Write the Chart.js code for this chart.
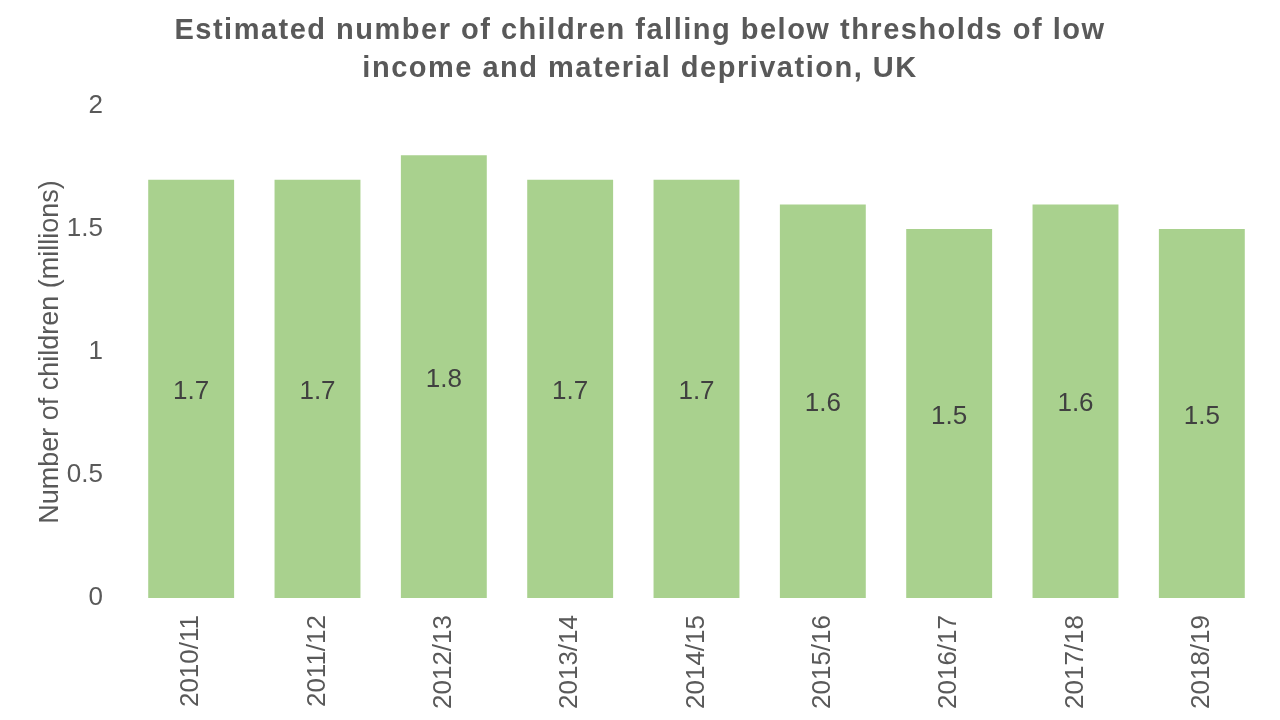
<!DOCTYPE html>
<html>
<head>
<meta charset="utf-8">
<script src="https://cdn.jsdelivr.net/npm/chart.js@4/dist/chart.umd.min.js"></script>
<style>
  html, body { margin: 0; padding: 0; background: #fff; }
  #wrap { width: 1280px; height: 720px; }
</style>
</head>
<body>
<div id="wrap"><canvas id="myChart" width="1280" height="720"></canvas></div>
<script>
const years = ["2010/11", "2011/12", "2012/13", "2013/14", "2014/15", "2015/16", "2016/17", "2017/18", "2018/19"];
const children = [1.7, 1.7, 1.8, 1.7, 1.7, 1.6, 1.5, 1.6, 1.5];
const yTicks = [0, 0.5, 1, 1.5, 2];
const titleLines = [
  "Estimated number of children falling below thresholds of low",
  "income and material deprivation, UK",
];

const FONT = "'Liberation Sans', Arial, sans-serif";
const GREY = "#595959";

// title drawn by hand so the letter spacing can be widened a bit
const wideTitle = {
  id: "wideTitle",
  afterDraw(chart) {
    const ctx = chart.ctx;
    ctx.save();
    ctx.font = "bold 29px " + FONT;
    ctx.letterSpacing = "1.5px";
    ctx.fillStyle = GREY;
    ctx.textAlign = "center";
    ctx.textBaseline = "middle";
    titleLines.forEach((line, i) => {
      ctx.fillText(line, chart.width / 2, 31 + i * 38);
    });
    ctx.restore();
  },
};

// labels in the middle of each bar
const barLabels = {
  id: "barLabels",
  afterDatasetsDraw(chart) {
    const ctx = chart.ctx;
    const meta = chart.getDatasetMeta(0);
    ctx.save();
    ctx.font = "26px " + FONT;
    ctx.fillStyle = "#404040";
    ctx.textAlign = "center";
    ctx.textBaseline = "middle";
    meta.data.forEach((bar, i) => {
      ctx.fillText(children[i].toFixed(1), bar.x, (bar.y + bar.base) / 2 + 3);
    });
    ctx.restore();
  },
};

const chartCtx = document.getElementById("myChart").getContext("2d");
window.chart = new Chart(chartCtx, {
  type: "bar",
  data: {
    labels: years,
    datasets: [
      {
        label: "Number of children (millions)",
        data: children,
        backgroundColor: "#A9D18E",
        barPercentage: 0.68,
        categoryPercentage: 1,
      },
    ],
  },
  options: {
    responsive: false,
    animation: false,
    layout: { padding: { left: 0, right: 15, top: 106, bottom: 0 } },
    plugins: {
      legend: { display: false },
      tooltip: { enabled: false },
      title: { display: false },
    },
    scales: {
      x: {
        grid: { display: false, drawTicks: false },
        border: { display: false },
        ticks: {
          color: GREY,
          font: { family: FONT, size: 26 },
          minRotation: 90,
          maxRotation: 90,
          padding: 17,
        },
        afterFit(scale) { scale.height = 122; },
      },
      y: {
        min: 0,
        max: 2,
        grid: { display: false, drawTicks: false },
        border: { display: false },
        afterBuildTicks(scale) { scale.ticks = yTicks.map((v) => ({ value: v })); },
        ticks: {
          color: GREY,
          font: { family: FONT, size: 26 },
          padding: 25,
          callback: (v) => String(v),
        },
        title: {
          display: true,
          text: "Number of children (millions)",
          color: GREY,
          font: { family: FONT, size: 27 },
          padding: { top: 34, bottom: 0 },
        },
        afterFit(scale) { scale.width = 128; },
      },
    },
  },
  plugins: [barLabels, wideTitle],
});
</script>
</body>
</html>
